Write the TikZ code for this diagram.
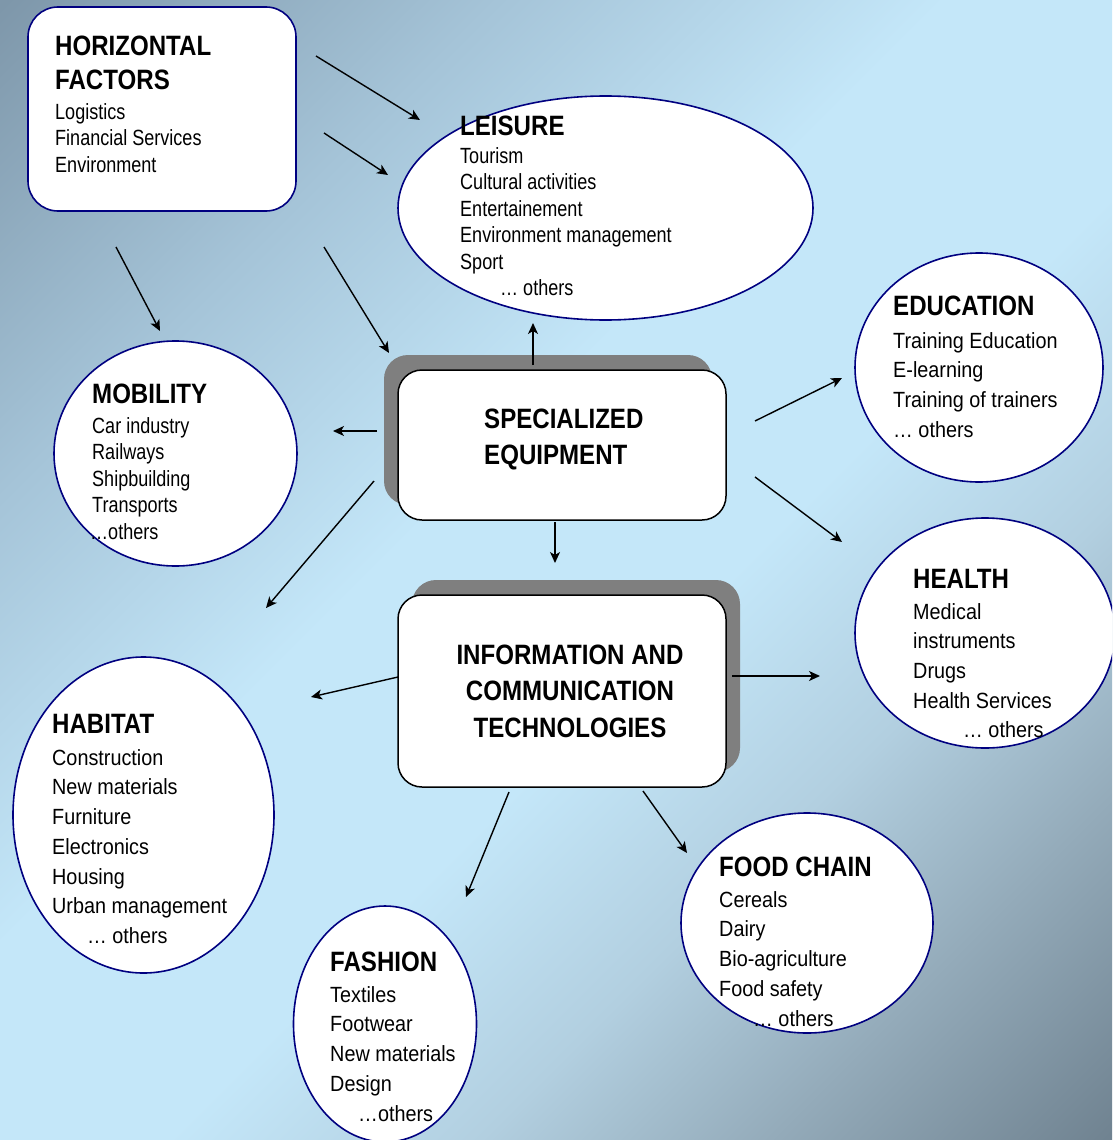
\documentclass[tikz,border=0pt]{standalone}
\usepackage{fontspec}
\setmainfont{Liberation Sans}
\newfontfamily\fA{Liberation Sans}[FakeStretch=0.82]
\newfontfamily\fB{Liberation Sans}[FakeStretch=0.90]
\newfontfamily\fH{Liberation Sans}[FakeStretch=0.86]
\usetikzlibrary{shapes.geometric,arrows.meta,shadows}
\definecolor{ovalline}{RGB}{0,0,128}
\definecolor{shadowgray}{RGB}{127,127,127}
\definecolor{bgA}{RGB}{126,151,170}
\definecolor{bgB}{RGB}{165,196,216}
\definecolor{bgC}{RGB}{196,231,249}
\definecolor{bgD}{RGB}{178,207,224}
\definecolor{bgE}{RGB}{148,171,186}
\definecolor{bgF}{RGB}{112,131,145}
\pgfdeclarehorizontalshading{bgshade}{100bp}{color(0bp)=(bgA); color(14.65bp)=(bgA); color(30.2bp)=(bgB); color(44.3bp)=(bgC); color(55.7bp)=(bgC); color(65.6bp)=(bgD); color(74.7bp)=(bgE); color(85.35bp)=(bgF); color(100bp)=(bgF)}
\tikzset{
  oval/.style={ellipse, draw=ovalline, line width=1.6pt, fill=white, inner sep=0pt},
  hfbox/.style={rectangle, rounded corners=30pt, draw=ovalline, line width=1.6pt, fill=white, inner sep=0pt},
  corebox/.style={rectangle, rounded corners=24pt, draw=black, line width=1.5pt, fill=white, inner sep=0pt},
  head/.style={inner sep=0pt, anchor=base west, font={\fontsize{28}{34}\fH\bfseries}},
  bigtext/.style={inner sep=0pt, font={\fontsize{28}{36.5}\fH\bfseries}},
  bodyA/.style={inner sep=0pt, anchor=north west, align=left, font={\fontsize{22}{26.5}\fA}},
  bodyB/.style={inner sep=0pt, anchor=north west, align=left, font={\fontsize{22}{29.7}\fB}},
  arr/.style={-{Stealth[length=11pt,width=10pt,inset=3pt]}, line width=1.4pt, draw=black},
}
\begin{document}
\begin{tikzpicture}[x=1pt,y=-1pt]
\useasboundingbox (0,0) rectangle (1112,1140);
\clip (0,0) rectangle (1112,1140);
\shade[shading=bgshade, shading angle=-45] (0,0) rectangle (1112,1140);

% shapes
\node[hfbox, minimum width=268pt, minimum height=204pt] (hf) at (162,109) {};
\node[oval, minimum width=415pt, minimum height=224pt] (leisure) at (605.5,208) {};
\node[oval, minimum width=248pt, minimum height=229pt] (education) at (979,367.5) {};
\node[oval, minimum width=243pt, minimum height=225pt] (mobility) at (175.5,453.5) {};
\node[oval, minimum width=260pt, minimum height=230pt] (health) at (985,633) {};
\node[oval, minimum width=261pt, minimum height=316pt] (habitat) at (143.5,815) {};
\node[oval, minimum width=183pt, minimum height=236pt] (fashion) at (385,1024) {};
\node[oval, minimum width=252pt, minimum height=220pt] (food) at (807,923) {};
\node[corebox, minimum width=328pt, minimum height=150pt,
      general shadow={fill=shadowgray, shadow xshift=-14pt, shadow yshift=15pt}] (se) at (562,445) {};
\node[corebox, minimum width=328pt, minimum height=192pt,
      general shadow={fill=shadowgray, shadow xshift=14pt, shadow yshift=15pt}] (ict) at (562,691) {};

% texts
\node[inner sep=0pt, anchor=north west, align=left, font={\fontsize{28}{34}\fH\bfseries}] (hfT) at (55,31.2) {\strut HORIZONTAL\\FACTORS};
\node[bodyA] (hfB) at (55,100.45) {\strut Logistics\\Financial Services\\Environment};

\node[head] (leisureT) at (460,135) {LEISURE};
\node[bodyA] (leisureB) at (460,144.45) {\strut Tourism\\Cultural activities\\Entertainement\\Environment management\\Sport\\\hspace*{40pt}\dots\ others};

\node[head] (mobilityT) at (92,403) {MOBILITY};
\node[bodyA] (mobilityB) at (92,414.45) {\strut Car industry\\Railways\\Shipbuilding\\Transports\\\hspace*{-2pt}\dots others};

\node[head] (educationT) at (893,315) {EDUCATION};
\node[bodyB] (educationB) at (893,327.2) {\strut Training Education\\E-learning\\Training of trainers\\\dots\ others};

\node[head] (healthT) at (913,588) {HEALTH};
\node[bodyB] (healthB) at (913,598.2) {\strut Medical\\instruments\\Drugs\\Health Services\\\hspace*{50pt}\dots\ others};

\node[head] (habitatT) at (52,733) {HABITAT};
\node[bodyB] (habitatB) at (52,744.2) {\strut Construction\\New materials\\Furniture\\Electronics\\Housing\\Urban management\\\hspace*{35pt}\dots\ others};

\node[head] (fashionT) at (330,971) {FASHION};
\node[bodyB] (fashionB) at (330,981.2) {\strut Textiles\\Footwear\\New materials\\Design\\\hspace*{28pt}\dots others};

\node[head] (foodT) at (719,876) {FOOD CHAIN};
\node[bodyB] (foodB) at (719,886.2) {\strut Cereals\\Dairy\\Bio-agriculture\\Food safety\\\hspace*{34pt}\dots\ others};

\node[bigtext, anchor=north west, align=left] (seT) at (484,402.4) {\strut SPECIALIZED\\EQUIPMENT};
\node[bigtext, anchor=north, align=center] (ictT) at (570,638.5) {\strut INFORMATION AND\\COMMUNICATION\\TECHNOLOGIES};

% connector ends
\coordinate (hfO1) at (316,56);   \coordinate (leI1) at (420,120);
\coordinate (hfO2) at (324,133);  \coordinate (leI2) at (388,175);
\coordinate (hfO3) at (116,247);  \coordinate (moI1) at (160,331);
\coordinate (hfO4) at (324,247);  \coordinate (seI1) at (389,353);
\coordinate (seO1) at (533,365);  \coordinate (leI3) at (533,323);
\coordinate (seO2) at (377,431);  \coordinate (moI2) at (333,431);
\coordinate (seO3) at (374,481);  \coordinate (haI1) at (266,608);
\coordinate (seO4) at (755,421);  \coordinate (edI1) at (842,378);
\coordinate (seO5) at (755,477);  \coordinate (heI1) at (842,542);
\coordinate (seO6) at (555,522);  \coordinate (icI1) at (555,563);
\coordinate (icO1) at (398,677);  \coordinate (haI2) at (311,697);
\coordinate (icO2) at (732,676);  \coordinate (heI2) at (820,676);
\coordinate (icO3) at (509,792);  \coordinate (faI1) at (466,897);
\coordinate (icO4) at (643,791);  \coordinate (foI1) at (687,853);

\draw[arr] (hfO1) -- (leI1);
\draw[arr] (hfO2) -- (leI2);
\draw[arr] (hfO3) -- (moI1);
\draw[arr] (hfO4) -- (seI1);
\draw[arr] (seO1) -- (leI3);
\draw[arr] (seO2) -- (moI2);
\draw[arr] (seO3) -- (haI1);
\draw[arr] (seO4) -- (edI1);
\draw[arr] (seO5) -- (heI1);
\draw[arr] (seO6) -- (icI1);
\draw[arr] (icO1) -- (haI2);
\draw[arr] (icO2) -- (heI2);
\draw[arr] (icO3) -- (faI1);
\draw[arr] (icO4) -- (foI1);
\end{tikzpicture}
\end{document}
